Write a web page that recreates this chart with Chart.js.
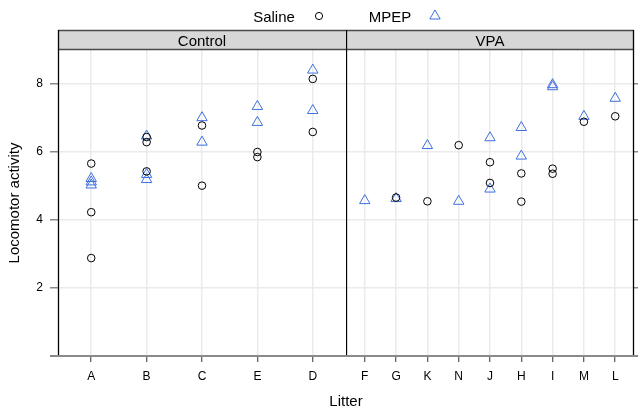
<!DOCTYPE html>
<html><head><meta charset="utf-8">
<script src="https://cdn.jsdelivr.net/npm/chart.js@4.4.1/dist/chart.umd.min.js"></script>
<style>
html,body{margin:0;padding:0;background:#fff;}
#wrap{position:relative;width:638px;height:409px;overflow:hidden;font-family:"Liberation Sans",Arial,sans-serif;color:#000;}
canvas{position:absolute;top:0;}
.t{position:absolute;white-space:nowrap;line-height:1;transform:translate(-50%,-50%);font-size:15px;color:#000;}
</style></head><body>
<div id="wrap">
<canvas id="c1" width="346" height="409" style="left:0;width:346px;height:409px"></canvas>
<canvas id="c2" width="292" height="409" style="left:346px;width:292px;height:409px"></canvas>
<div class="t" style="left:274px;top:16px">Saline</div>
<div class="t" style="left:390px;top:16px">MPEP</div>
<svg style="position:absolute;left:0;top:0" width="638" height="30">
  <circle cx="319" cy="16" r="3.6" fill="none" stroke="#000" stroke-width="1"/>
  <polygon points="435,10 440.2,19 429.8,19" fill="none" stroke="#3f6fe0" stroke-width="1"/>
</svg>
<div class="t" style="left:202px;top:40px">Control</div>
<div class="t" style="left:490px;top:40px">VPA</div>
<div class="t" style="left:346px;top:400px">Litter</div>
</div>
<script>
// ---- data ----
const controlLitters = ['A','B','C','E','D'];
const vpaLitters = ['F','G','K','N','J','H','I','M','L'];
const controlSaline = [[5.66,4.23,2.88],[6.44,6.29,5.43],[6.78,5.01],[6.00,5.85],[8.15,6.59]];
const controlMPEP   = [[5.22,5.12,5.03],[6.47,5.34,5.19],[7.01,6.29],[7.34,6.87],[8.41,7.22]];
const vpaSaline = [[],[4.66],[4.55],[6.20],[5.70,5.09],[5.37,4.54],[5.51,5.36],[6.89],[7.05]];
const vpaMPEP   = [[4.57],[4.63],[6.19],[4.55],[6.42,4.91],[6.72,5.88],[7.98,7.92],[7.05],[7.58]];
const yTicks = [2,4,6,8];
const yMin = 0, yMax = 9;

const SAL_COL = '#000000';
const MPEP_COL = '#3f6fe0';
const FONT = '"Liberation Sans", Arial, sans-serif';

function toPoints(groups){
  const pts = [];
  groups.forEach((vals,i)=>vals.forEach(v=>pts.push({x:i+1,y:v})));
  return pts;
}

function deco(isLeft){
  return {
    id:'deco',
    beforeDraw(chart){
      const {ctx, chartArea:a} = chart;
      ctx.save();
      ctx.fillStyle = '#d7d7d7';
      ctx.fillRect(a.left, 30, a.right - a.left, a.top - 30);
      ctx.restore();
    },
    afterDraw(chart){
      const {ctx, chartArea:a, width} = chart;
      ctx.save();
      ctx.strokeStyle = '#4a4a4a'; ctx.lineWidth = 1.5;
      ctx.beginPath();
      ctx.moveTo(a.left, 30.5); ctx.lineTo(a.right, 30.5);
      ctx.moveTo(a.left, a.top - 0.5); ctx.lineTo(a.right, a.top - 0.5);
      ctx.stroke();
      ctx.strokeStyle = '#000'; ctx.lineWidth = 1.3;
      ctx.beginPath();
      if (isLeft){ ctx.moveTo(a.left + 0.5, 30); ctx.lineTo(a.left + 0.5, a.bottom); }
      else {
        ctx.moveTo(0.5, 30); ctx.lineTo(0.5, a.bottom);
        ctx.moveTo(a.right - 0.5, 30); ctx.lineTo(a.right - 0.5, a.bottom);
      }
      ctx.stroke();
      ctx.strokeStyle = '#8a8a8a'; ctx.lineWidth = 2;
      ctx.beginPath();
      ctx.moveTo(isLeft ? 50 : 0, a.bottom); ctx.lineTo(width, a.bottom);
      ctx.stroke();
      ctx.restore();
    }
  };
}

function makeChart(id, cats, sal, mpep, isLeft){
  return new Chart(document.getElementById(id), {
    type:'scatter',
    data:{datasets:[
      {label:'Saline', data:toPoints(sal), pointStyle:'circle', pointRadius:3.8, pointHoverRadius:3.8,
       borderColor:SAL_COL, backgroundColor:'rgba(0,0,0,0)', borderWidth:1},
      {label:'MPEP', data:toPoints(mpep), pointStyle:'triangle', pointRadius:6, pointHoverRadius:6,
       borderColor:MPEP_COL, backgroundColor:'rgba(0,0,0,0)', borderWidth:1}
    ]},
    options:{
      responsive:false, animation:false, events:[],
      layout:{autoPadding:false, padding:{top:50,left:0,right:0,bottom:0}},
      plugins:{legend:{display:false}, tooltip:{enabled:false}},
      scales:{
        x:{type:'linear', min:0.4, max:cats.length+0.6,
           afterBuildTicks:s=>{s.ticks = cats.map((c,i)=>({value:i+1}));},
           afterFit:s=>{s.height = 53; s.paddingLeft = 0; s.paddingRight = 0;},
           border:{display:false},
           grid:{color:'#ebebeb', lineWidth:1.5, drawTicks:true, tickLength:6, tickColor:'#333', tickWidth:1},
           ticks:{autoSkip:false, maxRotation:0, padding:7, color:'#000',
                  font:{family:FONT, size:12},
                  callback:v=>cats[Math.round(v)-1]}
        },
        y:{type:'linear', position:isLeft?'left':'right', min:yMin, max:yMax,
           afterBuildTicks:s=>{s.ticks = yTicks.map(v=>({value:v}));},
           afterFit:s=>{s.width = isLeft ? 58 : 4; s.paddingTop = 0; s.paddingBottom = 0;},
           border:{display:false},
           title:{display:isLeft, text:'Locomotor activity', color:'#000',
                  font:{family:FONT, size:15}, padding:{top:6, bottom:0}},
           grid:{color:'#ebebeb', lineWidth:1.5, drawTicks:true, tickLength:isLeft?8:4, tickColor:'#8a8a8a', tickWidth:1.5},
           ticks:{display:isLeft, padding:7, color:'#000',
                  font:{family:FONT, size:12}}
        }
      }
    },
    plugins:[deco(isLeft)]
  });
}

makeChart('c1', controlLitters, controlSaline, controlMPEP, true);
makeChart('c2', vpaLitters, vpaSaline, vpaMPEP, false);
</script>
</body></html>
